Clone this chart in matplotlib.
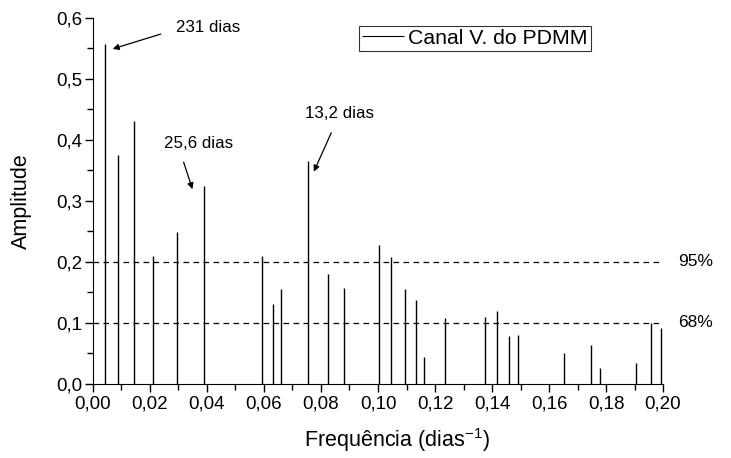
import matplotlib
matplotlib.use("Agg")
import matplotlib.pyplot as plt
from matplotlib.ticker import MultipleLocator, FuncFormatter

plt.rcParams['font.family'] = ['Liberation Sans', 'DejaVu Sans']

freq = [0.0042, 0.0089, 0.0145, 0.0212, 0.0294, 0.0389, 0.0593, 0.0631, 0.0660, 0.0756,
        0.0824, 0.0882, 0.1005, 0.1047, 0.1095, 0.1132, 0.1161, 0.1234, 0.1376, 0.1416,
        0.1460, 0.1492, 0.1653, 0.1747, 0.1779, 0.1905, 0.1958, 0.1992]
amp = [0.558, 0.375, 0.431, 0.210, 0.249, 0.324, 0.210, 0.131, 0.155, 0.365,
       0.180, 0.157, 0.228, 0.208, 0.156, 0.138, 0.044, 0.108, 0.110, 0.120,
       0.078, 0.081, 0.050, 0.064, 0.027, 0.035, 0.0995, 0.091]
conf_levels = [0.2, 0.1]
conf_labels = ['95%', '68%']

fig = plt.figure(figsize=(7.31, 4.58), dpi=100)
ax = fig.add_axes([0.1272, 0.1616, 0.7798, 0.7991])

ax.vlines(freq, 0, amp, colors='black', linewidth=1.0, label='Canal V. do PDMM')
for lvl, lab in zip(conf_levels, conf_labels):
    ax.plot([0, 0.199], [lvl, lvl], color='black', linestyle=(0, (4.5, 3.5)), linewidth=0.9)
    ax.text(0.2053, lvl, lab, fontsize=12.5, va='center', ha='left')

ax.set_xlim(0, 0.2)
ax.set_ylim(0, 0.6)
ax.spines['top'].set_visible(False)
ax.spines['right'].set_visible(False)
ax.xaxis.set_major_locator(MultipleLocator(0.02))
ax.xaxis.set_minor_locator(MultipleLocator(0.01))
ax.yaxis.set_major_locator(MultipleLocator(0.1))
ax.yaxis.set_minor_locator(MultipleLocator(0.05))
ax.xaxis.set_major_formatter(FuncFormatter(lambda v, p: f"{v:.2f}".replace('.', ',')))
ax.yaxis.set_major_formatter(FuncFormatter(lambda v, p: f"{v:.1f}".replace('.', ',')))
ax.tick_params(which='major', length=6, width=1, labelsize=13.5, direction='out')
ax.tick_params(which='minor', length=4, width=1, direction='out')
ax.tick_params(axis='y', which='major', pad=1.5)
ax.tick_params(axis='x', which='major', pad=2.5)

ax.set_xlabel('Frequência (dias$^{\\mathregular{-1}}$)', fontsize=15.5)
ax.set_ylabel('Amplitude', fontsize=15.5)
ax.xaxis.set_label_coords(0.533, -0.115)
ax.yaxis.set_label_coords(-0.107, 0.5)

ap = dict(arrowstyle='-|>', color='black', lw=0.9, mutation_scale=9)
ax.text(0.0291, 0.585, '231 dias', fontsize=12.2, ha='left', va='center')
ax.annotate('', xy=(0.0060, 0.548), xytext=(0.0247, 0.575), arrowprops=ap)
ax.text(0.0249, 0.394, '25,6 dias', fontsize=12.2, ha='left', va='center')
ax.annotate('', xy=(0.0352, 0.315), xytext=(0.0315, 0.368), arrowprops=ap)
ax.text(0.0744, 0.443, '13,2 dias', fontsize=12.2, ha='left', va='center')
ax.annotate('', xy=(0.0771, 0.344), xytext=(0.0840, 0.416), arrowprops=ap)

leg = ax.legend(loc='upper left', bbox_to_anchor=(0.4667, 0.979), fontsize=15.3,
                frameon=True, fancybox=False, edgecolor='black', handlelength=1.95,
                handletextpad=0.2, borderpad=0.15, borderaxespad=0)
leg.get_frame().set_linewidth(0.8)
for h in leg.legend_handles:
    h.set_linewidth(0.8)

fig.savefig('out.png', dpi=100)
